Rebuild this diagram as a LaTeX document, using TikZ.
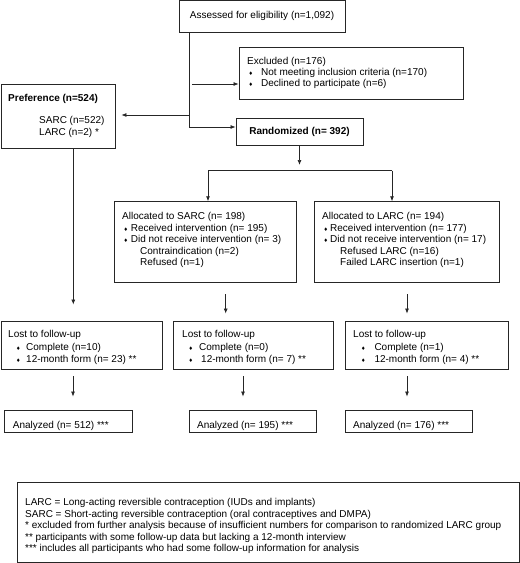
\documentclass[tikz,border=0pt]{standalone}
\usepackage{fontspec}
\setmainfont{Liberation Sans}
\newfontfamily\symf{DejaVu Sans}
\usetikzlibrary{arrows.meta}
\newcommand{\bul}{{\symf\fontsize{5pt}{5pt}\selectfont ♦}}
\tikzset{
  box/.style={draw=black!85, line width=0.9pt, rectangle, inner sep=0pt},
  txt/.style={inner sep=0pt, align=left, anchor=north west},
  fs/.style={font=\fontsize{10pt}{#1}\selectfont},
  arr/.style={draw=black!85, line width=0.7pt, -{Latex[length=5pt,width=4pt]}},
  ln/.style={draw=black!85, line width=0.7pt}
}
\begin{document}
\begin{tikzpicture}[x=1pt,y=-1pt]
\useasboundingbox (0,0) rectangle (520,563);
% boxes
\node[box, fs=11pt, minimum width=166pt, minimum height=31.4pt] (assess) at (262,16.3) {Assessed for eligibility (n=1,092)};
\node[box, minimum width=224pt, minimum height=52pt] (excl) at (351,73) {};
\node[box, minimum width=114pt, minimum height=64pt] (pref) at (58,116) {};
\node[box, fs=11pt, minimum width=127pt, minimum height=27pt] (rand) at (299.5,131.5) {\bfseries Randomized (n= 392)};
\node[box, minimum width=182pt, minimum height=80.3pt] (sarc) at (205,241.85) {};
\node[box, minimum width=185pt, minimum height=80.3pt] (larc) at (406.5,241.85) {};
\node[box, minimum width=161pt, minimum height=48pt] (lost1) at (81.5,345) {};
\node[box, minimum width=160pt, minimum height=48pt] (lost2) at (253,345) {};
\node[box, minimum width=163pt, minimum height=48pt] (lost3) at (426.5,345) {};
\node[box, minimum width=128pt, minimum height=22pt] (an1) at (68,421) {};
\node[box, minimum width=127pt, minimum height=22pt] (an2) at (252.5,421) {};
\node[box, minimum width=127pt, minimum height=22pt] (an3) at (408.5,421) {};
\node[box, minimum width=502pt, minimum height=80pt] (foot) at (268.25,522) {};
% texts
\node[txt, fs=11.2pt] (texcl) at (247,57) {Excluded (n=176)\\
\hspace*{1.5pt}\makebox[12.5pt][l]{\bul}Not meeting inclusion criteria (n=170)\\
\hspace*{1.5pt}\makebox[12.5pt][l]{\bul}Declined to participate (n=6)};
\node[inner sep=0pt, anchor=base west, fs=11pt] (tpref) at (8,101.5) {\bfseries Preference (n=524)};
\node[txt, fs=11.7pt] (tpref2) at (39,116.2) {SARC (n=522)\\LARC (n=2) *};
\node[txt, fs=11.5pt] (tsarc) at (122,212.2) {Allocated to SARC (n= 198)\\
\hspace*{1.3pt}\makebox[7.4pt][l]{\bul}Received intervention (n= 195)\\
\hspace*{1.3pt}\makebox[7.4pt][l]{\bul}Did not receive intervention (n= 3)\\
\hspace*{18pt}Contraindication (n=2)\\
\hspace*{18pt}Refused (n=1)};
\node[txt, fs=11.5pt] (tlarc) at (322,212.2) {Allocated to LARC (n= 194)\\
\hspace*{1.3pt}\makebox[6.7pt][l]{\bul}Received intervention (n= 177)\\
\hspace*{1.3pt}\makebox[6.7pt][l]{\bul}Did not receive intervention (n= 17)\\
\hspace*{18pt}Refused LARC (n=16)\\
\hspace*{18pt}Failed LARC insertion (n=1)};
\node[txt, fs=12.4pt] (tlost1) at (8,330.5) {Lost to follow-up\\
\hspace*{8pt}\makebox[10pt][l]{\bul}Complete (n=10)\\
\hspace*{8pt}\makebox[10pt][l]{\bul}12-month form (n= 23) **};
\node[txt, fs=12.4pt] (tlost2) at (182,330.5) {Lost to follow-up\\
\hspace*{6.3pt}\makebox[10.7pt][l]{\bul}Complete (n=0)\\
\hspace*{6.3pt}\makebox[12.7pt][l]{\bul}12-month form (n= 7) **};
\node[txt, fs=12.4pt] (tlost3) at (353,330.5) {Lost to follow-up\\
\hspace*{8pt}\makebox[13.3pt][l]{\bul}Complete (n=1)\\
\hspace*{8pt}\makebox[13.3pt][l]{\bul}12-month form (n= 4) **};
\node[inner sep=0pt, anchor=base west, fs=11pt] (tan1) at (12.7,428) {Analyzed (n= 512) ***};
\node[inner sep=0pt, anchor=base west, fs=11pt] (tan2) at (197,428) {Analyzed (n= 195) ***};
\node[inner sep=0pt, anchor=base west, fs=11pt] (tan3) at (353,428) {Analyzed (n= 176) ***};
\node[txt, fs=11.5pt] (tfoot) at (25,498.2) {LARC = Long-acting reversible contraception (IUDs and implants)\\
SARC = Short-acting reversible contraception (oral contraceptives and DMPA)\\
* excluded from further analysis because of insufficient numbers for comparison to randomized LARC group\\
** participants with some follow-up data but lacking a 12-month interview\\
*** includes all participants who had some follow-up information for analysis};
% connectors
\coordinate (tk) at (189,32);
\draw[arr] (tk) |- ([yshift=4.5pt]rand.west);
\coordinate (ex0) at (192,84);
\draw[arr] (ex0) -- (ex0 -| excl.west);
\coordinate (pf0) at (189,115);
\draw[arr, shorten >=6pt] (pf0) -- (pf0 -| pref.east);
\coordinate (rd) at (299.5,165);
\draw[arr] (rand.south) -- (rd);
\coordinate (sl) at (208,170.7);
\coordinate (sr) at (392,170.7);
\draw[ln] (sl) -- (sr);
\draw[arr] (sl) -- (sl |- sarc.north);
\draw[arr] (sr) -- (sr |- larc.north);
\coordinate (pl) at (73.3,0);
\draw[arr, shorten >=16pt] (pl |- pref.south) -- (pl |- lost1.north);
\coordinate (a2) at (225.7,0);
\draw[arr, shorten <=12pt, shorten >=7pt] (a2 |- sarc.south) -- (a2 |- lost2.north);
\coordinate (a3) at (407,0);
\draw[arr, shorten <=12pt, shorten >=7pt] (a3 |- larc.south) -- (a3 |- lost3.north);
\coordinate (b1) at (73,0);
\coordinate (b2) at (243,0);
\coordinate (b3) at (407,0);
\draw[arr, shorten <=7pt, shorten >=13pt] (b1 |- lost1.south) -- (b1 |- an1.north);
\draw[arr, shorten <=7pt, shorten >=13pt] (b2 |- lost2.south) -- (b2 |- an2.north);
\draw[arr, shorten <=7pt, shorten >=13pt] (b3 |- lost3.south) -- (b3 |- an3.north);
\end{tikzpicture}
\end{document}
